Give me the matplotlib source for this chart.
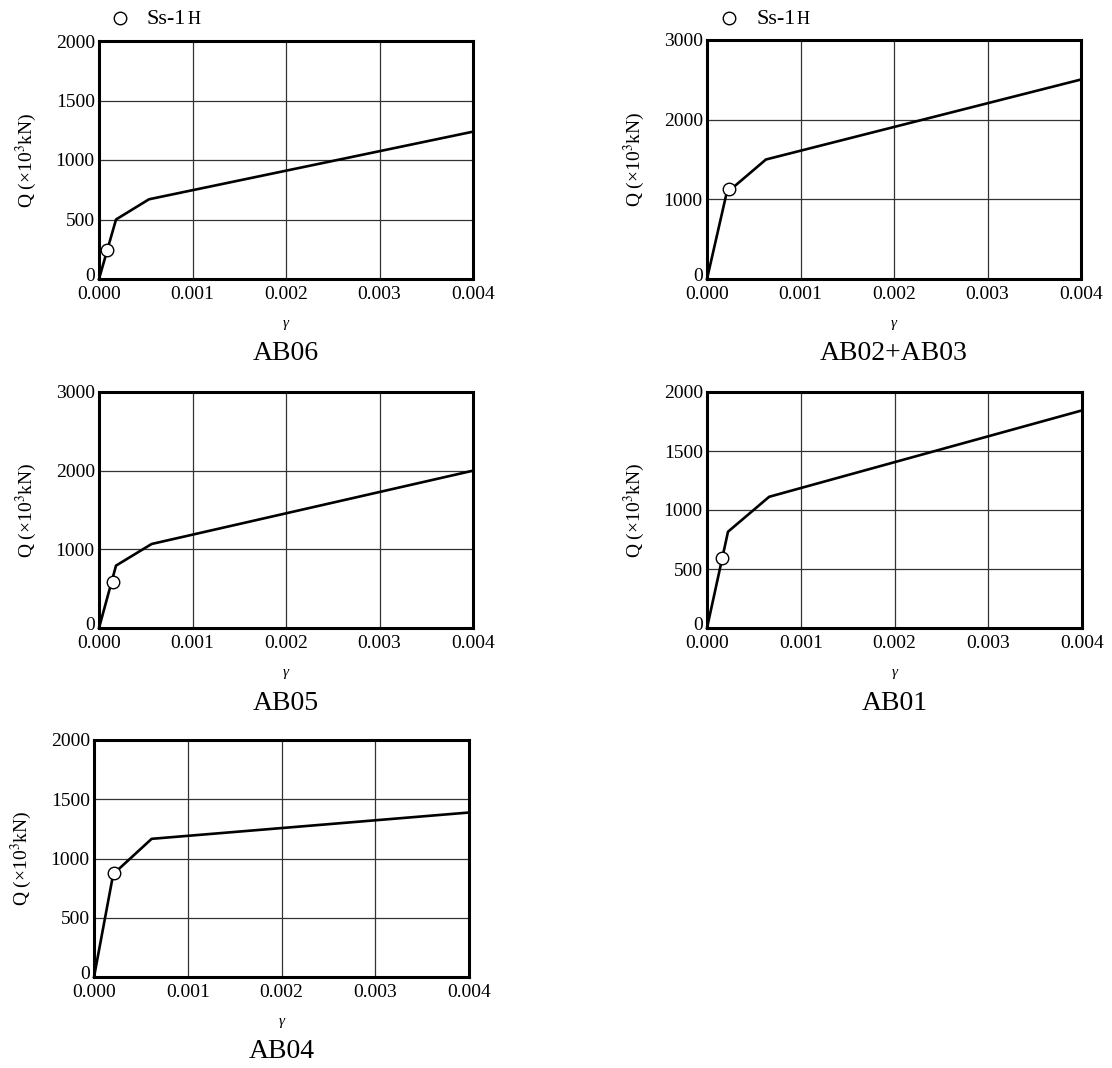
import matplotlib
matplotlib.use('Agg')
import matplotlib.pyplot as plt
import matplotlib.transforms as mtransforms
import numpy as np

plt.rcParams['font.family'] = ['Liberation Serif', 'DejaVu Serif']
plt.rcParams['mathtext.fontset'] = 'stix'

# %% data (gamma, Q x10^3 kN)
names = ['AB06', 'AB02+AB03', 'AB05', 'AB01', 'AB04']
ymax = [2000, 3000, 3000, 2000, 2000]
ystep = [500, 1000, 1000, 500, 500]

gamma_ab06 = [0.0, 0.000182, 0.000535, 0.004]
q_ab06 = [0, 500, 670, 1238]
gamma_ab0203 = [0.0, 0.00021, 0.00063, 0.004]
q_ab0203 = [0, 1080, 1500, 2504]
gamma_ab05 = [0.0, 0.000182, 0.000563, 0.004]
q_ab05 = [0, 793, 1068, 2000]
gamma_ab01 = [0.0, 0.000224, 0.000663, 0.004]
q_ab01 = [0, 816, 1112, 1844]
gamma_ab04 = [0.0, 0.000205, 0.000615, 0.004]
q_ab04 = [0, 868, 1166, 1388]

# Ss-1H response points
ss_gamma = [0.0000888, 0.000235, 0.000146, 0.000164, 0.000217]
ss_q = [244, 1125, 591, 596, 877]

curves = [(gamma_ab06, q_ab06), (gamma_ab0203, q_ab0203), (gamma_ab05, q_ab05),
          (gamma_ab01, q_ab01), (gamma_ab04, q_ab04)]
xticks = [0.0, 0.001, 0.002, 0.003, 0.004]

# %% layout in pixels: left, right, top, bottom
W, H = 1112, 1068
boxes = [(99, 473, 41, 279), (707, 1081, 40, 279), (99, 473, 392, 628),
         (707, 1082, 392, 628), (94, 469, 740, 977)]

fig = plt.figure(figsize=(W / 100, H / 100), dpi=100)

for i, name in enumerate(names):
  l, r, t, b = boxes[i]
  ax = fig.add_axes([l / W, 1 - b / H, (r - l) / W, (b - t) / H])
  gx, gq = curves[i]
  ax.plot(gx, gq, color='black', lw=1.9, zorder=3, clip_on=False)
  ax.plot(ss_gamma[i], ss_q[i], 'o', ms=9, mfc='white', mec='black', mew=1.0, zorder=4, clip_on=False)
  ax.set_xlim(0, 0.004)
  ax.set_ylim(0, ymax[i])
  ax.set_xticks(xticks)
  ax.set_xticklabels([f'{v:.3f}' for v in xticks])
  ax.set_yticks(np.arange(0, ymax[i] + 1, ystep[i]))
  ax.tick_params(length=0, labelsize=14)
  ax.tick_params(axis='x', pad=5)
  ax.tick_params(axis='y', pad=3)
  ax.grid(True, color='#333333', lw=0.9)
  for s in ax.spines.values():
    s.set_linewidth(2.2)
  # the "0" on the y axis sits a little above the corner, like the reference
  zero_lbl = ax.get_yticklabels()[0]
  zero_lbl.set_transform(zero_lbl.get_transform() +
                         mtransforms.ScaledTranslation(0, 3 / 72, fig.dpi_scale_trans))
  ax.set_ylabel('Q (×10$^3$kN)', fontsize=14, labelpad=12)
  ax.set_xlabel('γ', fontsize=11, labelpad=10, fontstyle='italic')
  ax.annotate(name, xy=(0.5, 0), xycoords='axes fraction', xytext=(0, -54),
              textcoords='offset points', ha='center', va='center', fontsize=20)

# legend "○ Ss-1H" over the two top panels
fig.canvas.draw()
renderer = fig.canvas.get_renderer()
for cx in (120, 729):
  fig.lines.append(plt.Line2D([cx / W], [1 - 18 / H], marker='o', ms=9, mfc='white',
                              mec='black', mew=1.0, transform=fig.transFigure))
  t1 = fig.text((cx + 27) / W, 1 - 24 / H, 'Ss-1', fontsize=16, va='baseline', ha='left')
  x_end = t1.get_window_extent(renderer).x1
  fig.text((x_end + 1) / W, 1 - 24 / H, 'H', fontsize=13, va='baseline', ha='left')

fig.savefig('out.png', dpi=100)
